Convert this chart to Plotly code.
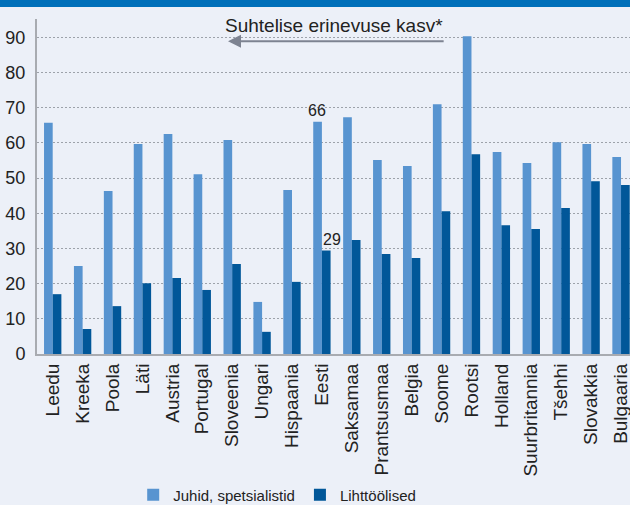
import plotly.graph_objects as go

countries = ["Leedu", "Kreeka", "Poola", "Läti", "Austria", "Portugal", "Sloveenia",
             "Ungari", "Hispaania", "Eesti", "Saksamaa", "Prantsusmaa", "Belgia",
             "Soome", "Rootsi", "Holland", "Suurbritannia", "Tšehhi", "Slovakkia",
             "Bulgaaria"]
juhid = [65.7, 25.0, 46.3, 59.7, 62.5, 51.1, 60.8, 14.8, 46.6, 66.0, 67.3, 55.1,
         53.4, 71.0, 90.3, 57.4, 54.3, 60.2, 59.7, 56.0]
lihttoolised = [17.0, 7.1, 13.6, 20.1, 21.6, 18.2, 25.6, 6.3, 20.5, 29.4, 32.4, 28.4,
                27.3, 40.6, 56.8, 36.6, 35.5, 41.5, 49.1, 48.0]
series_names = ["Juhid, spetsialistid", "Lihttöölised"]
y_ticks = [0, 10, 20, 30, 40, 50, 60, 70, 80, 90]
title_text = "Suhtelise erinevuse kasv*"
highlight = "Eesti"

C_LIGHT = "#5894D0"
C_DARK = "#015799"
BG = "#ECF0F8"
FONT = "Liberation Sans, Arial, sans-serif"

fig = go.Figure()
fig.add_trace(go.Bar(x=countries, y=juhid, name=series_names[0],
                     marker=dict(color=C_LIGHT, line=dict(width=0))))
fig.add_trace(go.Bar(x=countries, y=lihttoolised, name=series_names[1],
                     marker=dict(color=C_DARK, line=dict(width=0))))

hi = countries.index(highlight)
fig.add_annotation(x=hi, y=juhid[hi], text=f"{juhid[hi]:.0f}", showarrow=False,
                   xshift=-4.5, yanchor="bottom", yshift=1,
                   font=dict(size=16, color="#222222", family=FONT))
fig.add_annotation(x=hi, y=lihttoolised[hi], text=f"{lihttoolised[hi]:.0f}", showarrow=False,
                   xshift=10, yanchor="bottom", yshift=1,
                   font=dict(size=16, color="#222222", family=FONT))

# header band
fig.add_shape(type="rect", xref="paper", yref="paper", x0=-0.07, x1=1.02,
              y0=1 + 12 / 335, y1=1 + 22 / 335, fillcolor="#0070BA", line=dict(width=0),
              layer="above")

# direction arrow + text
fig.add_annotation(xref="x", yref="y", axref="x", ayref="y",
                   x=5.86, y=88.9, ax=13.12, ay=88.9, text="", showarrow=True,
                   arrowhead=2, arrowsize=1.3, arrowwidth=2, arrowcolor="#7D8391")
fig.add_annotation(xref="x", yref="y", x=13.12, y=93.3, text=title_text,
                   showarrow=False, xanchor="right", yanchor="middle",
                   font=dict(size=19, color="#222222", family=FONT))

fig.update_layout(
    width=630, height=505,
    margin=dict(l=37, r=0, t=19, b=151, autoexpand=False),
    paper_bgcolor=BG, plot_bgcolor=BG,
    barmode="group", bargap=0.42, bargroupgap=0,
    font=dict(family=FONT, color="#222222"),
    showlegend=True,
    legend=dict(orientation="h", xref="container", yref="container",
                x=0.44, xanchor="center", y=0.02, yanchor="middle",
                font=dict(size=15, color="#222222"), itemwidth=30,
                bgcolor="rgba(0,0,0,0)", traceorder="normal"),
    xaxis=dict(range=[-0.525, 19.3], tickangle=-90, showgrid=False, automargin=False,
               showline=True, linecolor="#A8ABB1", linewidth=2, ticks="",
               tickfont=dict(size=19, color="#222222"), fixedrange=True),
    yaxis=dict(range=[0, 95.2], tickvals=y_ticks, showgrid=True, automargin=False,
               gridcolor="#9DA2AA", griddash="1.5px,2.5px", gridwidth=1,
               showline=True, linecolor="#A8ABB1", linewidth=2, ticks="",
               zeroline=False, ticklabelstandoff=6,
               tickfont=dict(size=18, color="#222222"), fixedrange=True),
)

fig.write_html("out.html", config={"displayModeBar": False},
               post_script="document.body.style.margin='0';document.body.style.background='" + BG + "';")
